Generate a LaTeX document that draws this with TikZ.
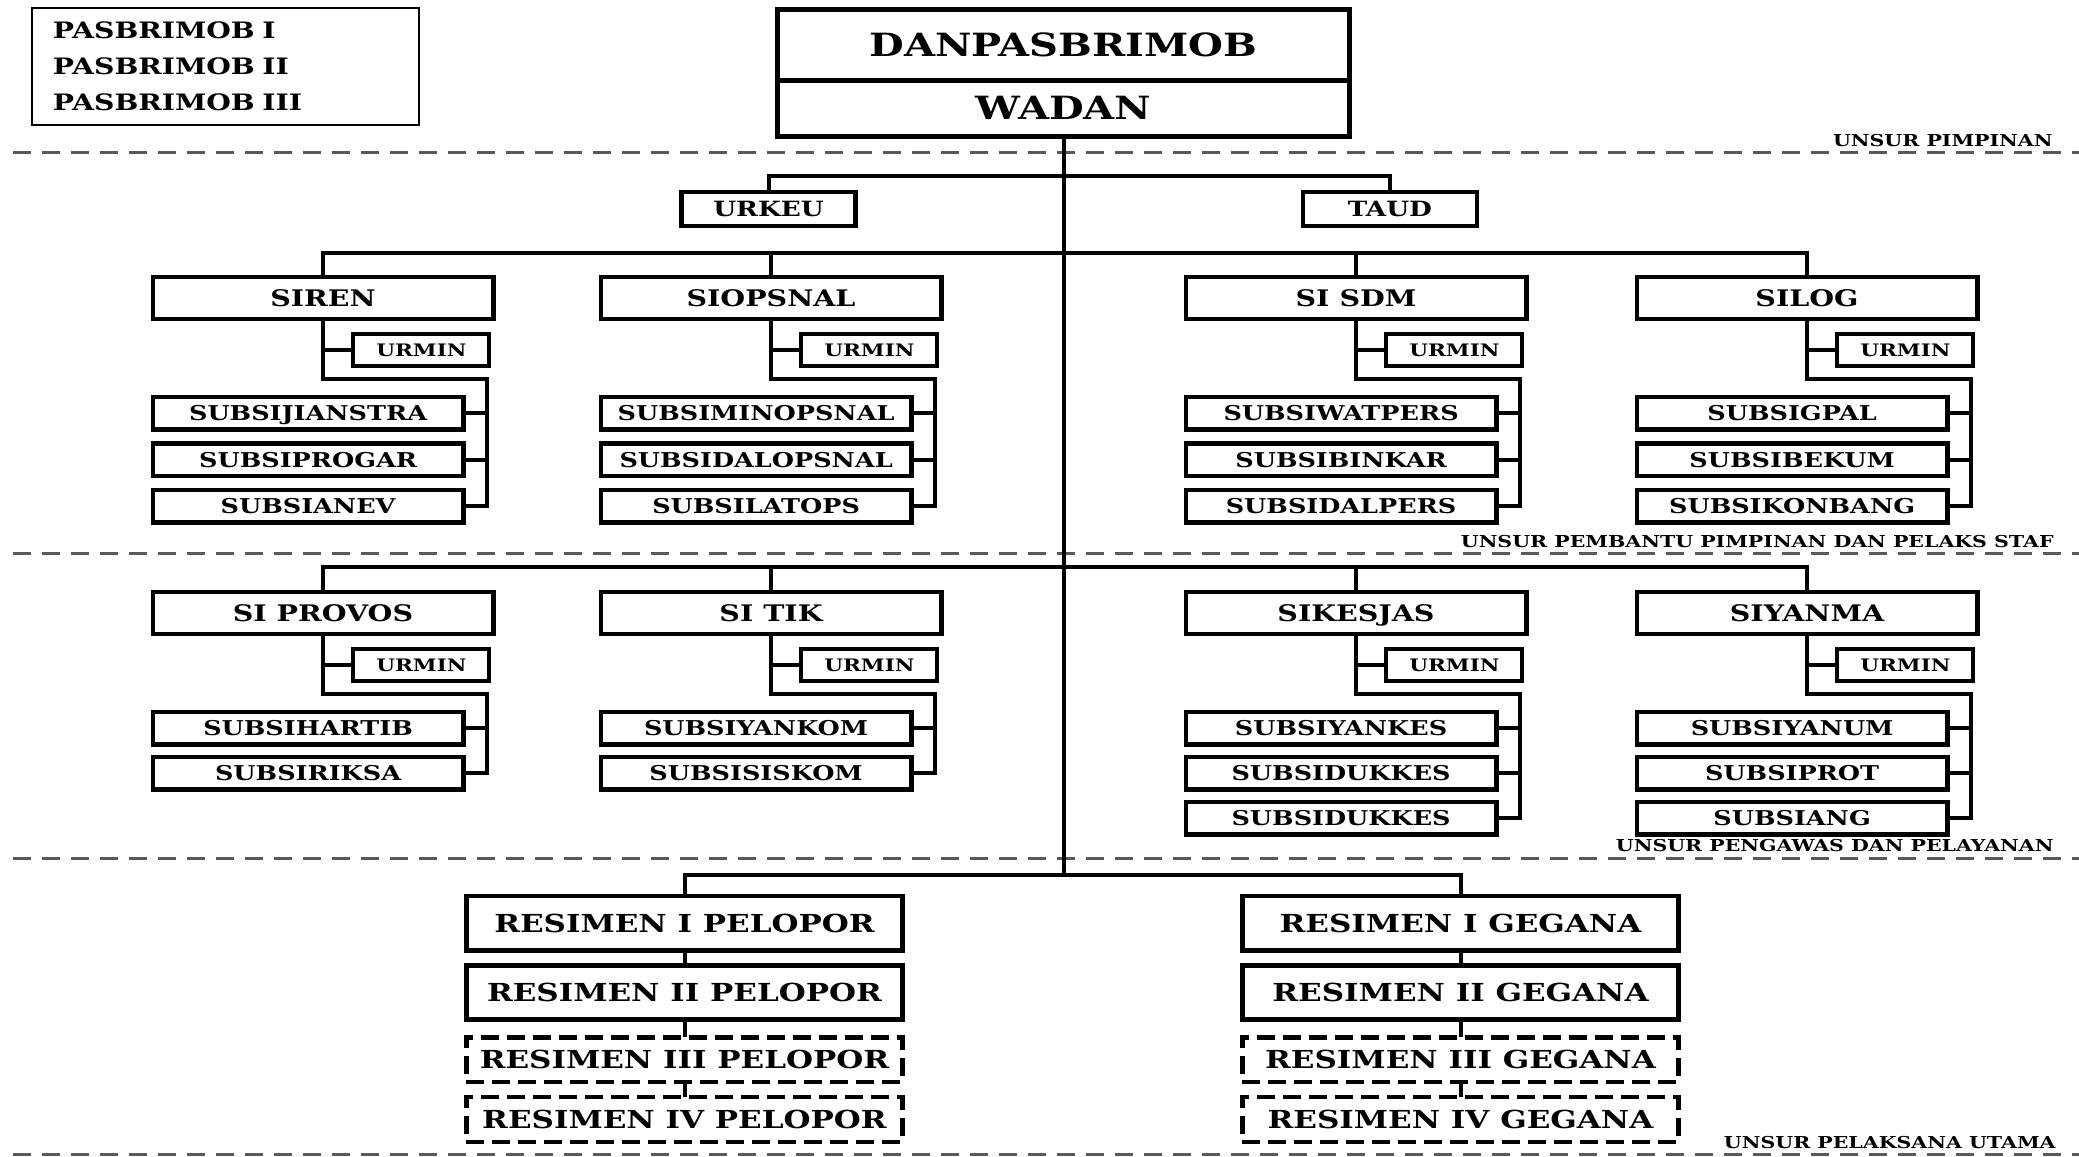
\documentclass[tikz,border=0pt]{standalone}
\usepackage{fontspec}
\usepackage{tikz}
\usetikzlibrary{calc,%
                positioning}
\newfontfamily\orgfont{DejaVu Serif}[FakeStretch=1.25]
\definecolor{sepgray}{gray}{0.35}

\tikzset{headbox/.style={
			  rectangle,
			  outer sep       = 0pt,
			  minimum width   = 286pt,
			  line width      = 2.5pt,
			  draw            = black,
			  fill            = white,
			  text depth      = 0pt,
			  font            = \orgfont\bfseries\fontsize{16}{19}\selectfont
			}}
\tikzset{legendbox/.style={
			  rectangle,
			  outer sep       = 0pt,
			  minimum width   = 193.5pt,
			  minimum height  = 58.5pt,
			  text width      = 172.5pt,
			  inner xsep      = 10.5pt,
			  align           = left,
			  line width      = 1pt,
			  draw            = black,
			  font            = \orgfont\bfseries\fontsize{11.3}{18}\selectfont
			}}
\tikzset{unitbox/.style={
			  rectangle,
			  outer sep       = 0pt,
			  minimum width   = 87pt,
			  minimum height  = 16.8pt,
			  line width      = 2.2pt,
			  draw            = black,
			  fill            = white,
			  text depth      = 0pt,
			  font            = \orgfont\bfseries\fontsize{10.5}{12}\selectfont
			}}
\tikzset{lvlbox/.style={
			  rectangle,
			  outer sep       = 0pt,
			  minimum width   = 170.2pt,
			  minimum height  = 21pt,
			  line width      = 2.3pt,
			  draw            = black,
			  fill            = white,
			  text depth      = 0pt,
			  font            = \orgfont\bfseries\fontsize{11.4}{13}\selectfont
			}}
\tikzset{urminbox/.style={
			  rectangle,
			  outer sep       = 0pt,
			  minimum width   = 68pt,
			  minimum height  = 16pt,
			  line width      = 2pt,
			  draw            = black,
			  fill            = white,
			  text depth      = 0pt,
			  font            = \orgfont\bfseries\fontsize{8.6}{10}\selectfont
			}}
\tikzset{subbox/.style={
			  rectangle,
			  outer sep       = 0pt,
			  minimum width   = 155.3pt,
			  minimum height  = 16.3pt,
			  line width      = 2.2pt,
			  draw            = black,
			  fill            = white,
			  text depth      = 0pt,
			  font            = \orgfont\bfseries\fontsize{10.2}{12}\selectfont
			}}
\tikzset{regbox/.style={
			  rectangle,
			  outer sep       = 0pt,
			  minimum width   = 218.1pt,
			  minimum height  = 27.1pt,
			  line width      = 2.4pt,
			  draw            = black,
			  fill            = white,
			  text depth      = 0pt,
			  font            = \orgfont\bfseries\fontsize{12.4}{15}\selectfont
			}}
\tikzset{regdash/.style={
			  regbox,
			  minimum height  = 22.3pt,
			  line width      = 2.2pt,
			  dash pattern    = on 9pt off 4pt
			}}
\tikzset{unsurtext/.style={
			  anchor          = base east,
			  inner sep       = 0pt,
			  font            = \orgfont\bfseries\fontsize{8.2}{10}\selectfont
			}}
\tikzset{link/.style={
			  line width      = 2pt,
			  draw            = black
			}}
\tikzset{sepline/.style={
			  line width      = 1.5pt,
			  draw            = sepgray,
			  dash pattern    = on 9pt off 5.5pt
			}}

\begin{document}
\begin{tikzpicture}[x=0.5pt, y=-0.5pt]
    \useasboundingbox (0,0) rectangle (2079,1157);

    % separators
    \draw [sepline] (13,152.4)  -- (2079,152.4);
    \draw [sepline] (13,553.8)  -- (2079,553.8);
    \draw [sepline] (13,858)    -- (2079,858);
    \draw [sepline] (13,1154.7) -- (2079,1154.7);
    \node (lead)  [unsurtext] at (2053,146)    {UNSUR PIMPINAN};
    \node (staff) [unsurtext] at (2054,547.5)  {UNSUR PEMBANTU PIMPINAN DAN PELAKS STAF};
    \node (serv)  [unsurtext] at (2054,851.5)  {UNSUR PENGAWAS DAN PELAYANAN};
    \node (exec)  [unsurtext] at (2056,1148)   {UNSUR PELAKSANA UTAMA};

    \node (legend)   [legendbox] at (225.5,66.5)          {PASBRIMOB I\\PASBRIMOB II\\PASBRIMOB III};
    \node (dan)      [headbox, minimum height=35.25pt] at (1063.5,44.75) {DANPASBRIMOB};
    \node (wadan)    [headbox, minimum height=28.25pt, below=0pt of dan] {WADAN};

    \coordinate [below=19.6pt  of wadan.south] (bus1);
    \coordinate [below=58.1pt  of wadan.south] (bus2);
    \coordinate [below=215.2pt of wadan.south] (bus3);
    \coordinate [below=369pt   of wadan.south] (bus4);

    \node (urkeu)    [unitbox] at (768.5,209)              {URKEU};
    \node (taud)     [unitbox, right=223.7pt of urkeu]     {TAUD};

    % staf
    \node (siren)    [lvlbox] at (323,297.8)               {SIREN};
    \node (siopsnal) [lvlbox, right=53.8pt of siren]      {SIOPSNAL};
    \node (sisdm)    [lvlbox, right=122.3pt of siopsnal]  {SI SDM};
    \node (silog)    [lvlbox, right=55.3pt of sisdm]      {SILOG};

    \node (siren_u)  [urminbox, below left=7.5pt and 1.9pt of siren.south east]     {URMIN};
    \node (siren_a)  [subbox, below right=39pt and 0pt of siren.south west]         {SUBSIJIANSTRA};
    \node (siren_b)  [subbox, below=7pt of siren_a]                                 {SUBSIPROGAR};
    \node (siren_c)  [subbox, below=7pt of siren_b]                                 {SUBSIANEV};

    \node (siops_u)  [urminbox, below left=7.5pt and 1.9pt of siopsnal.south east]  {URMIN};
    \node (siops_a)  [subbox, below right=39pt and 0pt of siopsnal.south west]      {SUBSIMINOPSNAL};
    \node (siops_b)  [subbox, below=7pt of siops_a]                                 {SUBSIDALOPSNAL};
    \node (siops_c)  [subbox, below=7pt of siops_b]                                 {SUBSILATOPS};

    \node (sdm_u)    [urminbox, below left=7.5pt and 1.9pt of sisdm.south east]     {URMIN};
    \node (sdm_a)    [subbox, below right=39pt and 0pt of sisdm.south west]         {SUBSIWATPERS};
    \node (sdm_b)    [subbox, below=7pt of sdm_a]                                   {SUBSIBINKAR};
    \node (sdm_c)    [subbox, below=7pt of sdm_b]                                   {SUBSIDALPERS};

    \node (log_u)    [urminbox, below left=7.5pt and 1.9pt of silog.south east]     {URMIN};
    \node (log_a)    [subbox, below right=39pt and 0pt of silog.south west]         {SUBSIGPAL};
    \node (log_b)    [subbox, below=7pt of log_a]                                   {SUBSIBEKUM};
    \node (log_c)    [subbox, below=7pt of log_b]                                   {SUBSIKONBANG};

    % pengawas dan pelayanan
    \node (siprovos) [lvlbox] at (323,612.8)               {SI PROVOS};
    \node (sitik)    [lvlbox, right=53.8pt of siprovos]   {SI TIK};
    \node (sikesjas) [lvlbox, right=122.3pt of sitik]     {SIKESJAS};
    \node (siyanma)  [lvlbox, right=55.3pt of sikesjas]   {SIYANMA};

    \node (prov_u)   [urminbox, below left=7.5pt and 1.9pt of siprovos.south east]  {URMIN};
    \node (prov_a)   [subbox, below right=39pt and 0pt of siprovos.south west]      {SUBSIHARTIB};
    \node (prov_b)   [subbox, below=6.2pt of prov_a]                                {SUBSIRIKSA};

    \node (tik_u)    [urminbox, below left=7.5pt and 1.9pt of sitik.south east]     {URMIN};
    \node (tik_a)    [subbox, below right=39pt and 0pt of sitik.south west]         {SUBSIYANKOM};
    \node (tik_b)    [subbox, below=6.2pt of tik_a]                                 {SUBSISISKOM};

    \node (kes_u)    [urminbox, below left=7.5pt and 1.9pt of sikesjas.south east]  {URMIN};
    \node (kes_a)    [subbox, below right=39pt and 0pt of sikesjas.south west]      {SUBSIYANKES};
    \node (kes_b)    [subbox, below=6.2pt of kes_a]                                 {SUBSIDUKKES};
    \node (kes_c)    [subbox, below=6.2pt of kes_b]                                 {SUBSIDUKKES};

    \node (yan_u)    [urminbox, below left=7.5pt and 1.9pt of siyanma.south east]   {URMIN};
    \node (yan_a)    [subbox, below right=39pt and 0pt of siyanma.south west]       {SUBSIYANUM};
    \node (yan_b)    [subbox, below=6.2pt of yan_a]                                 {SUBSIPROT};
    \node (yan_c)    [subbox, below=6.2pt of yan_b]                                 {SUBSIANG};

    % pelaksana utama
    \node (pel1)     [regbox] at (684.5,923)               {RESIMEN I PELOPOR};
    \node (pel2)     [regbox, below=7.7pt of pel1]         {RESIMEN II PELOPOR};
    \node (pel3)     [regdash, below=8.8pt of pel2]        {RESIMEN III PELOPOR};
    \node (pel4)     [regdash, below=7.6pt of pel3]        {RESIMEN IV PELOPOR};
    \node (geg1)     [regbox, right=169.9pt of pel1]       {RESIMEN I GEGANA};
    \node (geg2)     [regbox, below=7.7pt of geg1]         {RESIMEN II GEGANA};
    \node (geg3)     [regdash, below=8.8pt of geg2]        {RESIMEN III GEGANA};
    \node (geg4)     [regdash, below=7.6pt of geg3]        {RESIMEN IV GEGANA};

    \coordinate (siren_k) at ($(siren_a.north -| siren_u.east)+(-1pt,9pt)$);
    \coordinate (siops_k) at ($(siops_a.north -| siops_u.east)+(-1pt,9pt)$);
    \coordinate (sdm_k)   at ($(sdm_a.north -| sdm_u.east)+(-1pt,9pt)$);
    \coordinate (log_k)   at ($(log_a.north -| log_u.east)+(-1pt,9pt)$);
    \coordinate (prov_k)  at ($(prov_a.north -| prov_u.east)+(-1pt,9pt)$);
    \coordinate (tik_k)   at ($(tik_a.north -| tik_u.east)+(-1pt,9pt)$);
    \coordinate (kes_k)   at ($(kes_a.north -| kes_u.east)+(-1pt,9pt)$);
    \coordinate (yan_k)   at ($(yan_a.north -| yan_u.east)+(-1pt,9pt)$);

    \draw [link] (wadan.south)    -- (bus4);
    \draw [link] (urkeu.north)    |- (bus1) -| (taud.north);
    \draw [link] (siren.north)    |- (bus2) -| (silog.north);
    \draw [link] (siopsnal.north) |- (bus2);
    \draw [link] (sisdm.north)    |- (bus2);
    \draw [link] (siprovos.north) |- (bus3) -| (siyanma.north);
    \draw [link] (sitik.north)    |- (bus3);
    \draw [link] (sikesjas.north) |- (bus3);
    \draw [link] (pel1.north)     |- (bus4) -| (geg1.north);
    \draw [link] (pel1) -- (pel2);
    \draw [link] (pel2) -- (pel3);
    \draw [link] (pel3) -- (pel4);
    \draw [link] (geg1) -- (geg2);
    \draw [link] (geg2) -- (geg3);
    \draw [link] (geg3) -- (geg4);
%
    \draw [link] (siren.south)    |- (siren_u.west);
    \draw [link] (siren.south)    |- (siren_k) |- (siren_c.east);
    \draw [link] (siren_a.east)   -- (siren_a.east -| siren_k);
    \draw [link] (siren_b.east)   -- (siren_b.east -| siren_k);
    \draw [link] (siopsnal.south) |- (siops_u.west);
    \draw [link] (siopsnal.south) |- (siops_k) |- (siops_c.east);
    \draw [link] (siops_a.east)   -- (siops_a.east -| siops_k);
    \draw [link] (siops_b.east)   -- (siops_b.east -| siops_k);
    \draw [link] (sisdm.south)    |- (sdm_u.west);
    \draw [link] (sisdm.south)    |- (sdm_k) |- (sdm_c.east);
    \draw [link] (sdm_a.east)     -- (sdm_a.east -| sdm_k);
    \draw [link] (sdm_b.east)     -- (sdm_b.east -| sdm_k);
    \draw [link] (silog.south)    |- (log_u.west);
    \draw [link] (silog.south)    |- (log_k) |- (log_c.east);
    \draw [link] (log_a.east)     -- (log_a.east -| log_k);
    \draw [link] (log_b.east)     -- (log_b.east -| log_k);
%
    \draw [link] (siprovos.south) |- (prov_u.west);
    \draw [link] (siprovos.south) |- (prov_k) |- (prov_b.east);
    \draw [link] (prov_a.east)    -- (prov_a.east -| prov_k);
    \draw [link] (sitik.south)    |- (tik_u.west);
    \draw [link] (sitik.south)    |- (tik_k) |- (tik_b.east);
    \draw [link] (tik_a.east)     -- (tik_a.east -| tik_k);
    \draw [link] (sikesjas.south) |- (kes_u.west);
    \draw [link] (sikesjas.south) |- (kes_k) |- (kes_c.east);
    \draw [link] (kes_a.east)     -- (kes_a.east -| kes_k);
    \draw [link] (kes_b.east)     -- (kes_b.east -| kes_k);
    \draw [link] (siyanma.south)  |- (yan_u.west);
    \draw [link] (siyanma.south)  |- (yan_k) |- (yan_c.east);
    \draw [link] (yan_a.east)     -- (yan_a.east -| yan_k);
    \draw [link] (yan_b.east)     -- (yan_b.east -| yan_k);

\end{tikzpicture}
\end{document}
